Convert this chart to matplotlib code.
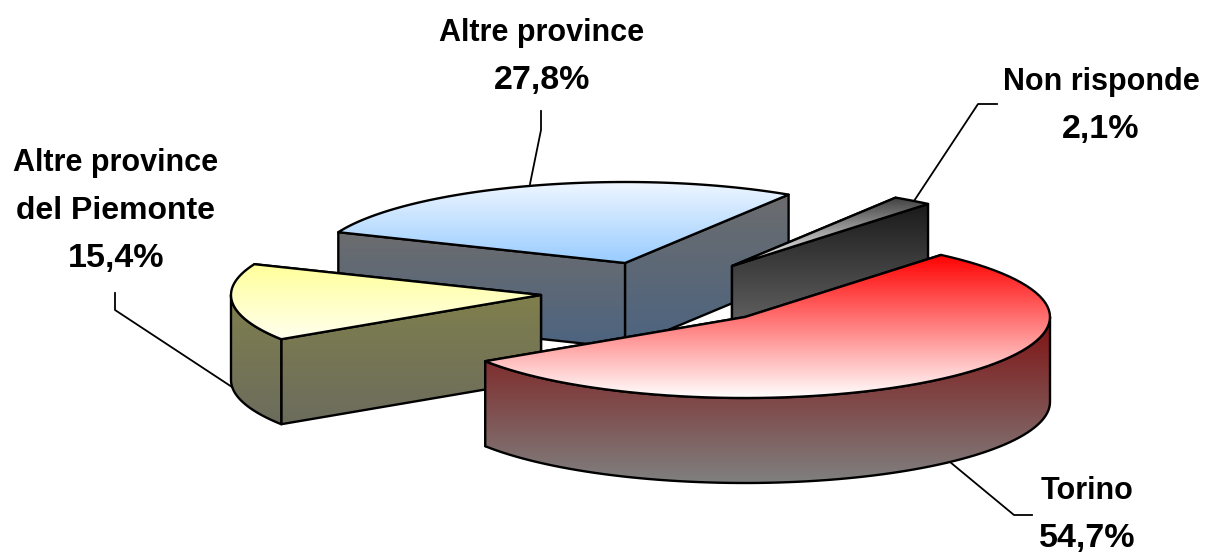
import numpy as np
import matplotlib
matplotlib.use('Agg')
import matplotlib.pyplot as plt
from matplotlib.colors import to_rgb
from matplotlib.patches import Polygon

# slices clockwise from the first angle
names = ['Torino', 'Altre province\ndel Piemonte', 'Altre province', 'Non risponde']
values = [54.7, 15.4, 27.8, 2.1]
pct_labels = ['54,7%', '15,4%', '27,8%', '2,1%']

start_angle = 40.0
rx_right, rx_left, ry = 305.0, 310.0, 81.0
depth = 85.0

# apex of every exploded slice, in pixels
centers = [(745, 317), (541, 295), (625, 263), (732, 266)]
top_colors = [('#ff0000', '#ffffff'), ('#ffff99', '#ffffee'), ('#eef6ff', '#99ccff'), ('#404040', '#ffffff')]
side_colors = [('#7f1010', '#808080'), ('#7f7f4c', '#6c6c5e'), ('#6c6c6e', '#4c6480'), ('#1a1a1a', '#707070')]
draw_order = [2, 3, 1, 0]

label_pos = [(1087, 515), (116, 211), (542, 57), (1101, 106)]
leaders = [[(950, 462), (1014, 515), (1032, 515)],
           [(115, 293), (115, 310), (232, 387)],
           [(541, 111), (541, 130), (530, 184)],
           [(997, 104), (978, 104), (914, 201)]]

plt.rcParams['font.family'] = ['Liberation Sans', 'DejaVu Sans']

fig = plt.figure(figsize=(12.07, 5.54), dpi=100)
ax = fig.add_axes([0, 0, 1, 1])
ax.set_xlim(0, 1207)
ax.set_ylim(554, 0)
ax.axis('off')
ax.set_autoscale_on(False)

z = [1]

def arc(c, t0, t1, n=80):
    t = np.radians(np.linspace(t0, t1, n))
    s = np.sin(t)
    return np.column_stack([c[0] + np.where(s < 0, rx_left, rx_right) * s, c[1] - ry * np.cos(t)])

def grad_poly(pts, c0, c1):
    pts = np.asarray(pts)
    y0, y1 = pts[:, 1].min(), pts[:, 1].max()
    f = np.linspace(0, 1, 256)[:, None]
    img = (1 - f) * np.array(to_rgb(c0)) + f * np.array(to_rgb(c1))
    im = ax.imshow(img[:, None, :], extent=(pts[:, 0].min(), pts[:, 0].max(), y1, y0),
                   aspect='auto', zorder=z[0])
    p = Polygon(pts, closed=True, fc='none', ec='black', lw=1.7, joinstyle='round', zorder=z[0] + 1)
    ax.add_patch(p)
    im.set_clip_path(p)
    z[0] += 2

# angles come from the values
edges = start_angle + np.concatenate([[0], np.cumsum(values)]) * 3.6
edges[-1] = start_angle + 360

for i in draw_order:
    c = centers[i]
    t0, t1 = edges[i], edges[i + 1]
    down = np.array([0, depth])
    # flat cut faces, the one further back first
    faces = sorted([t0, t1], key=lambda a: -np.cos(np.radians(a)))
    for a in faces:
        out = arc(c, a, a, 1)[0]
        grad_poly([c, out, out + down, np.array(c) + down], *side_colors[i])
    # round outer wall, only the part facing us
    a0, a1 = max(t0, 90), min(t1, 270)
    if a1 > a0:
        edge = arc(c, a0, a1)
        grad_poly(np.vstack([edge, edge[::-1] + down]), *side_colors[i])
    grad_poly(np.vstack([[c], arc(c, t0, t1)]), *top_colors[i])

for line in leaders:
    xs, ys = zip(*line)
    ax.plot(xs, ys, color='black', lw=1.3, zorder=z[0])

for i in range(len(names)):
    lines = names[i].split('\n')
    sizes = [23 if s == 'del Piemonte' else 22 for s in lines] + [24.5]
    lines = lines + [pct_labels[i]]
    x, yc = label_pos[i]
    for k, s in enumerate(lines):
        y = yc + (k - (len(lines) - 1) / 2) * 47.5
        ax.text(x, y, s, ha='center', va='center', fontsize=sizes[k], fontweight='bold',
                color='black', zorder=z[0] + 1)

fig.savefig('out.png', dpi=100, facecolor='white')
